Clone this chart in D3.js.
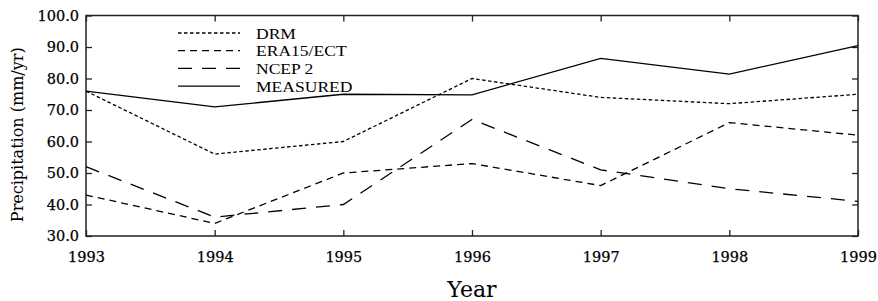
<!DOCTYPE html>
<html>
<head>
<meta charset="utf-8">
<script src="https://cdn.jsdelivr.net/npm/d3@7"></script>
<style>
  body { margin: 0; background: #fff; }
  svg { display: block; }
  .tick-label { font-family: "DejaVu Serif", serif; font-size: 14.5px; fill: #000; stroke: #000; stroke-width: 0.25px; }
  .legend text { font-family: "Liberation Serif", serif; font-size: 15px; fill: #000; }
</style>
</head>
<body>
<svg class="chart"></svg>
<script>
// data
var years = [1993, 1994, 1995, 1996, 1997, 1998, 1999];
var drm      = [76, 56, 60, 80, 74, 72, 75];
var era15    = [43, 34, 50, 53, 46, 66, 62];
var ncep2    = [52, 36, 40, 67, 51, 45, 41];
var measured = [76, 71, 75, 74.8, 86.4, 81.4, 90.4];
var seriesNames = ["DRM", "ERA15/ECT", "NCEP 2", "MEASURED"];
var yTicks = [30, 40, 50, 60, 70, 80, 90, 100];

// sizes
var W = 878, H = 301;
var margin = {top: 15.5, right: 20, bottom: 65, left: 86};
var width = W - margin.left - margin.right;
var height = H - margin.top - margin.bottom;

var svg = d3.select("svg.chart")
    .attr("width", W)
    .attr("height", H);

var g = svg.append("g")
    .attr("transform", "translate(" + margin.left + "," + margin.top + ")");

var x = d3.scaleLinear().domain([1993, 1999]).range([0, width]);
var y = d3.scaleLinear().domain([30, 100]).range([height, 0]);

// axes, ticks inward
function styleAxis(sel) {
  sel.select(".domain").remove();
  sel.selectAll(".tick line").attr("stroke", "#222").attr("stroke-width", 1.3);
}

var xAxisBottom = g.append("g")
    .attr("transform", "translate(0," + height + ")")
    .call(d3.axisBottom(x).tickValues(years).tickFormat(d3.format("d")).tickSizeInner(-6).tickPadding(16));
styleAxis(xAxisBottom);
xAxisBottom.selectAll("text").attr("class", "tick-label");

var xAxisTop = g.append("g")
    .call(d3.axisTop(x).tickValues(years).tickSizeInner(-6).tickFormat(""));
styleAxis(xAxisTop);

var yAxisLeft = g.append("g")
    .call(d3.axisLeft(y).tickValues(yTicks).tickFormat(d3.format(".1f")).tickSizeInner(-6).tickPadding(7));
styleAxis(yAxisLeft);
yAxisLeft.selectAll("text").attr("class", "tick-label");

var yAxisRight = g.append("g")
    .attr("transform", "translate(" + width + ",0)")
    .call(d3.axisRight(y).tickValues(yTicks).tickSizeInner(-6).tickFormat(""));
styleAxis(yAxisRight);

// frame
g.append("rect")
    .attr("x", 0).attr("y", 0)
    .attr("width", width).attr("height", height)
    .attr("fill", "none")
    .attr("stroke", "#222")
    .attr("stroke-width", 1.5);

// axis titles
svg.append("text")
    .attr("transform", "translate(23," + (margin.top + height / 2 + 9) + ") rotate(-90)")
    .attr("text-anchor", "middle")
    .attr("font-family", "DejaVu Serif, serif")
    .attr("font-size", 16)
    .text("Precipitation (mm/yr)");

svg.append("text")
    .attr("x", 472)
    .attr("y", 297)
    .attr("text-anchor", "middle")
    .attr("font-family", "DejaVu Serif, serif")
    .attr("font-size", 22)
    .text("Year");

// lines
var dashes = ["3.5,2.5", "7,5", "14,10", null];
var allSeries = [drm, era15, ncep2, measured];

var line = d3.line()
    .x(function(d, i) { return x(years[i]); })
    .y(function(d) { return y(d); });

g.selectAll(".series")
    .data(allSeries)
    .enter().append("path")
    .attr("class", "series")
    .attr("d", line)
    .attr("fill", "none")
    .attr("stroke", "#000")
    .attr("stroke-width", 1.3)
    .attr("stroke-dasharray", function(d, i) { return dashes[i]; });

// legend
var legend = svg.append("g")
    .attr("class", "legend")
    .attr("transform", "translate(178,33)");

var item = legend.selectAll("g")
    .data(seriesNames)
    .enter().append("g")
    .attr("transform", function(d, i) { return "translate(0," + (i * 17.7) + ")"; });

item.append("line")
    .attr("x1", 0).attr("x2", 62)
    .attr("y1", 0).attr("y2", 0)
    .attr("stroke", "#000")
    .attr("stroke-width", 1.3)
    .attr("stroke-dasharray", function(d, i) { return dashes[i]; });

// text a bit wider than Liberation Serif, like the original face
item.append("text")
    .attr("transform", "translate(78,5.5) scale(1.17,1)")
    .text(function(d) { return d; });
</script>
</body>
</html>
